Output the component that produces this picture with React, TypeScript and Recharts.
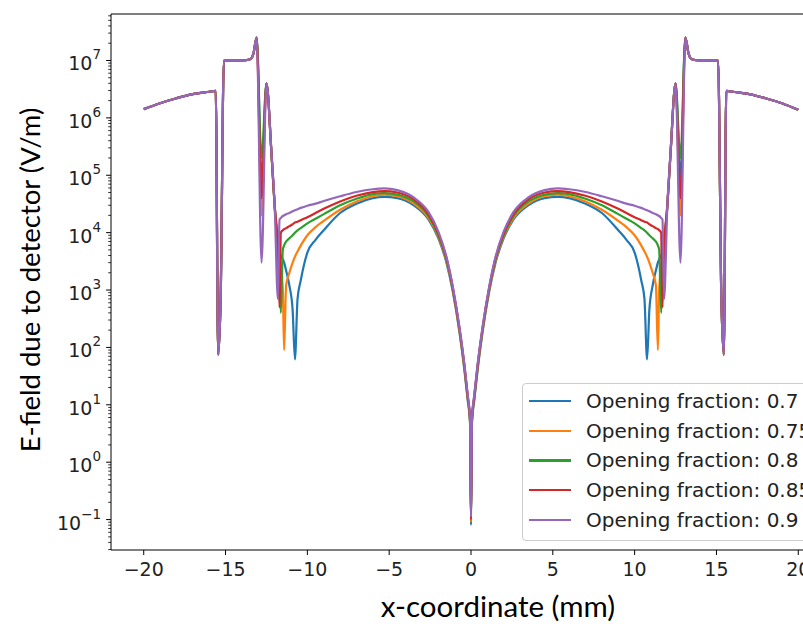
import React from 'react'
import { LineChart, Line, XAxis, YAxis, Legend, Label, ReferenceLine } from 'recharts'

// x positions along the detector (mm), shared by all five runs
const xPositions = [
  -20, -19, -18, -17, -16, -15.6, -15.45, -15.3, -15.1, -14.5, -14, -13.5, -13.3, -13.1, -12.8, -12.5, -12.2, -12,
  -11.8, -11.7, -11.62, -11.5, -11.42, -11.3, -11.1, -10.9, -10.76, -10.6, -10.4, -10, -9.5, -9, -8, -7, -6, -5.3,
  -4.5, -3.5, -2.6, -2, -1.5, -1.1, -0.7, -0.4, -0.2, -0.06,
  0,
  0.06, 0.2, 0.4, 0.7, 1.1, 1.5, 2, 2.6, 3.5, 4.5, 5.3, 6, 7, 8, 9, 9.5, 10, 10.4, 10.6, 10.76, 10.9, 11.1, 11.3,
  11.42, 11.5, 11.62, 11.7, 11.8, 12, 12.2, 12.5, 12.8, 13.1, 13.3, 13.5, 14, 14.5, 15.1, 15.3, 15.45, 15.6, 16, 17,
  18, 19, 20,
]

// E-field (V/m) for each opening fraction
const field70 = [
  1.42e6, 1.8e6, 2.2e6, 2.6e6, 2.85e6, 2.95e6, 75, 700, 1e7, 1e7, 1e7, 1.05e7, 1.3e7, 2.5e7, 9e4, 4e6, 2.6e5, 3e4,
  6e3, 4.5e3, 4e3, 3.4e3, 3e3, 2.2e3, 1.2e3, 450, 62, 700, 1.5e3, 4.5e3, 7.5e3, 1.1e4, 2.2e4, 3.2e4, 4e4, 4.2e4,
  4e4, 3e4, 1.7e4, 8e3, 3e3, 900, 180, 40, 12, 5,
  0.08,
  5, 12, 40, 180, 900, 3e3, 8e3, 1.7e4, 3e4, 4e4, 4.2e4, 4e4, 3.2e4, 2.2e4, 1.1e4, 7.5e3, 4.5e3, 1.5e3, 700, 62,
  450, 1.2e3, 2.2e3, 3e3, 3.4e3, 4e3, 4.5e3, 6e3, 3e4, 2.6e5, 4e6, 9e4, 2.5e7, 1.3e7, 1.05e7, 1e7, 1e7, 1e7, 700, 75,
  2.95e6, 2.85e6, 2.6e6, 2.2e6, 1.8e6, 1.38e6,
]
const field75 = [
  1.42e6, 1.8e6, 2.2e6, 2.6e6, 2.85e6, 2.95e6, 75, 700, 1e7, 1e7, 1e7, 1.05e7, 1.3e7, 2.5e7, 2e4, 4e6, 2.6e5, 3e4,
  6e3, 4e3, 2.5e3, 1e3, 90, 1.2e3, 2e3, 3e3, 3.8e3, 4.7e3, 6e3, 9e3, 1.25e4, 1.6e4, 2.5e4, 3.5e4, 4.3e4, 4.6e4,
  4.3e4, 3.2e4, 1.8e4, 8.5e3, 3.2e3, 950, 190, 42, 13, 5.3,
  0.09,
  5.3, 13, 42, 190, 950, 3.2e3, 8.5e3, 1.8e4, 3.2e4, 4.3e4, 4.6e4, 4.3e4, 3.5e4, 2.5e4, 1.6e4, 1.25e4, 9e3, 6e3,
  4.7e3, 3.8e3, 3e3, 2e3, 1.2e3, 90, 1e3, 2.5e3, 4e3, 6e3, 3e4, 2.6e5, 4e6, 2e4, 2.5e7, 1.3e7, 1.05e7, 1e7, 1e7, 1e7,
  700, 75, 2.95e6, 2.85e6, 2.6e6, 2.2e6, 1.8e6, 1.38e6,
]
const field80 = [
  1.42e6, 1.8e6, 2.2e6, 2.6e6, 2.85e6, 2.95e6, 75, 700, 1e7, 1e7, 1e7, 1.05e7, 1.3e7, 2.5e7, 2e5, 4e6, 2.6e5, 3e4,
  6e3, 2e3, 400, 5e3, 6e3, 7e3, 8e3, 9e3, 1e4, 1.1e4, 1.2e4, 1.45e4, 1.75e4, 2.1e4, 3e4, 3.9e4, 4.7e4, 4.9e4,
  4.6e4, 3.5e4, 1.95e4, 9e3, 3.4e3, 1e3, 200, 45, 13.5, 5.5,
  0.1,
  5.5, 13.5, 45, 200, 1e3, 3.4e3, 9e3, 1.95e4, 3.5e4, 4.6e4, 4.9e4, 4.7e4, 3.9e4, 3e4, 2.1e4, 1.75e4, 1.45e4, 1.2e4,
  1.1e4, 1e4, 9e3, 8e3, 7e3, 6e3, 5e3, 400, 2e3, 6e3, 3e4, 2.6e5, 4e6, 2e5, 2.5e7, 1.3e7, 1.05e7, 1e7, 1e7, 1e7, 700,
  75, 2.95e6, 2.85e6, 2.6e6, 2.2e6, 1.8e6, 1.38e6,
]
const field85 = [
  1.42e6, 1.8e6, 2.2e6, 2.6e6, 2.85e6, 2.95e6, 75, 700, 1e7, 1e7, 1e7, 1.05e7, 1.3e7, 2.5e7, 4e4, 4e6, 2.6e5, 3e4,
  5e3, 500, 1e4, 1.1e4, 1.15e4, 1.2e4, 1.3e4, 1.4e4, 1.5e4, 1.55e4, 1.65e4, 1.85e4, 2.2e4, 2.6e4, 3.5e4, 4.4e4,
  5.1e4, 5.3e4,
  5e4, 3.8e4, 2.1e4, 9.7e3, 3.6e3, 1050, 210, 47, 14, 5.7,
  0.1,
  5.7, 14, 47, 210, 1050, 3.6e3, 9.7e3, 2.1e4, 3.8e4, 5e4, 5.3e4, 5.1e4, 4.4e4, 3.5e4, 2.6e4, 2.2e4, 1.85e4, 1.65e4,
  1.55e4, 1.5e4, 1.4e4, 1.3e4, 1.2e4, 1.15e4, 1.1e4, 1e4, 500, 5e3, 3e4, 2.6e5, 4e6, 4e4, 2.5e7, 1.3e7, 1.05e7, 1e7,
  1e7, 1e7, 700, 75, 2.95e6, 2.85e6, 2.6e6, 2.2e6, 1.8e6, 1.38e6,
]
const field90 = [
  1.42e6, 1.8e6, 2.2e6, 2.6e6, 2.85e6, 2.95e6, 75, 700, 1e7, 1e7, 1e7, 1.05e7, 1.3e7, 2.5e7, 3e3, 4e6, 2.6e5, 3e4,
  700, 1.7e4, 1.8e4, 1.95e4, 2e4, 2.1e4, 2.2e4, 2.35e4, 2.45e4, 2.55e4, 2.7e4, 2.95e4, 3.2e4, 3.55e4, 4.3e4, 5.1e4,
  5.7e4, 5.9e4,
  5.5e4, 4.1e4, 2.3e4, 1.05e4, 3.8e3, 1100, 220, 50, 15, 6,
  0.11,
  6, 15, 50, 220, 1100, 3.8e3, 1.05e4, 2.3e4, 4.1e4, 5.5e4, 5.9e4, 5.7e4, 5.1e4, 4.3e4, 3.55e4, 3.2e4, 2.95e4, 2.7e4,
  2.55e4, 2.45e4, 2.35e4, 2.2e4, 2.1e4, 2e4, 1.95e4, 1.8e4, 1.7e4, 700, 3e4, 2.6e5, 4e6, 3e3, 2.5e7, 1.3e7, 1.05e7,
  1e7, 1e7, 1e7, 700, 75, 2.95e6, 2.85e6, 2.6e6, 2.2e6, 1.8e6, 1.38e6,
]

const seriesKeys = ['f70', 'f75', 'f80', 'f85', 'f90']
const seriesNames = [
  'Opening fraction: 0.7',
  'Opening fraction: 0.75',
  'Opening fraction: 0.8',
  'Opening fraction: 0.85',
  'Opening fraction: 0.9',
]
const seriesColors = ['#1f77b4', '#ff7f0e', '#2ca02c', '#d62728', '#9467bd']

const xTicks = [-20, -15, -10, -5, 0, 5, 10, 15, 20]
const yExponents = [-1, 0, 1, 2, 3, 4, 5, 6, 7]

const rows = xPositions.map((x, i) => ({
  x,
  f70: field70[i],
  f75: field75[i],
  f80: field80[i],
  f85: field85[i],
  f90: field90[i],
}))

const Y_MIN = Math.pow(10, -1.53)
const Y_MAX = Math.pow(10, 7.81)

// decade ticks plus the 2..9 minor ticks inside the visible range
const yTicks: number[] = []
for (let e = -2; e <= 7; e++) {
  for (let m = 1; m <= 9; m++) {
    const v = m * Math.pow(10, e)
    if (v >= Y_MIN && v <= Y_MAX) yTicks.push(v)
  }
}

const AXIS_X = 111
const tickFont = '"DejaVu Sans", sans-serif'
const titleFont = 'Lato, "Open Sans", sans-serif'

const minus = (n: number) => (n < 0 ? `\u2212${-n}` : `${n}`)

const LogTick = (props: any) => {
  const { y, payload } = props
  const v = payload.value as number
  const e = Math.round(Math.log10(v))
  const isMajor = yExponents.includes(e) && Math.abs(Math.log10(v) - e) < 1e-9
  if (!isMajor) {
    return <line x1={AXIS_X - 2.8} x2={AXIS_X} y1={y} y2={y} stroke="#000" strokeWidth={0.8} />
  }
  return (
    <g>
      <line x1={AXIS_X - 4.9} x2={AXIS_X} y1={y} y2={y} stroke="#000" strokeWidth={1} />
      <text x={AXIS_X - 10} y={y + 3} textAnchor="end" dominantBaseline="central" fill="#222" fontFamily={tickFont} fontSize={19}>
        10
        <tspan dy={-9} fontSize={13.5}>
          {minus(e)}
        </tspan>
      </text>
    </g>
  )
}

const LegendBox = () => (
  <div
    style={{
      border: '1px solid #cccccc',
      borderRadius: 4,
      background: 'rgba(255,255,255,0.8)',
      padding: '2px 0 5px 0',
      width: 320,
      fontFamily: tickFont,
      fontSize: 20,
      color: '#222',
    }}
  >
    {seriesNames.map((name, i) => (
      <div key={name} style={{ display: 'flex', alignItems: 'center', height: 29.8 }}>
        <div style={{ width: 42, height: 2.2, background: seriesColors[i], marginLeft: 6, marginRight: 15 }} />
        <span style={{ whiteSpace: 'nowrap' }}>{name}</span>
      </div>
    ))}
  </div>
)

export default function App() {
  return (
    <div style={{ position: 'absolute', left: 0, top: 0, width: 803, height: 632, overflow: 'hidden', background: '#fff' }}>
      <LineChart width={860} height={632} data={rows} margin={{ top: 14, right: 29, left: 0, bottom: 0 }}>
        <XAxis
          dataKey="x"
          type="number"
          domain={[-22, 22]}
          ticks={xTicks}
          interval={0}
          tickFormatter={minus}
          height={82}
          stroke="#000"
          tickSize={5}
          tickMargin={8}
          tick={{ fill: '#222', fontFamily: tickFont, fontSize: 19 }}
          allowDataOverflow
        >
          <Label
            content={() => (
              <text x={498} y={605} textAnchor="middle" dominantBaseline="central" fontFamily={titleFont} fontSize={29.5} fill="#000">
                x-coordinate (mm)
              </text>
            )}
          />
        </XAxis>
        <YAxis
          type="number"
          scale="log"
          domain={[Y_MIN, Y_MAX]}
          allowDataOverflow
          ticks={yTicks}
          interval={0}
          width={AXIS_X}
          stroke="#000"
          tickLine={false}
          tick={<LogTick />}
        >
          <Label
            content={() => (
              <text
                transform="translate(29,280) rotate(-90)"
                textAnchor="middle"
                dominantBaseline="central"
                fontFamily={titleFont}
                fontSize={27.5}
                fill="#000"
              >
                E-field due to detector (V/m)
              </text>
            )}
          />
        </YAxis>
        {/* top frame edge */}
        <ReferenceLine y={Y_MAX} stroke="#000" strokeWidth={1.2} ifOverflow="visible" />
        {seriesKeys.map((key, i) => (
          <Line
            key={key}
            dataKey={key}
            name={seriesNames[i]}
            type="monotone"
            stroke={seriesColors[i]}
            strokeWidth={2.2}
            dot={false}
            activeDot={false}
            isAnimationActive={false}
          />
        ))}
        <Legend
          layout="vertical"
          align="center"
          verticalAlign="middle"
          content={<LegendBox />}
          wrapperStyle={{ position: 'absolute', left: 522, top: 383, width: 330 }}
        />
      </LineChart>
    </div>
  )
}
